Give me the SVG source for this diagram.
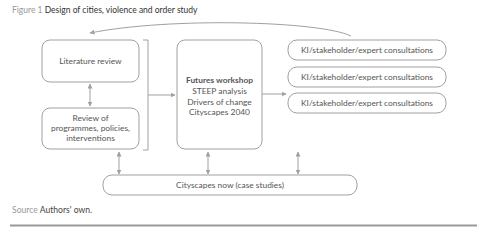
<svg xmlns="http://www.w3.org/2000/svg" width="490" height="234" viewBox="0 0 490 234">
<style>
.box{fill:#fff;stroke:#a0a0a0;stroke-width:1}
.t{font-family:Lato,"Open Sans",sans-serif;font-size:8.4px;fill:#555;text-anchor:middle}
.c{fill:none;stroke:#a0a0a0;stroke-width:1}
</style>
<defs>
<marker id="ah" viewBox="0 0 10 10" refX="9" refY="5" markerWidth="5" markerHeight="5" orient="auto-start-reverse" markerUnits="userSpaceOnUse">
<path d="M0,0 L10,5 L0,10 z" fill="#a0a0a0"/>
</marker>
</defs>
<rect width="490" height="234" fill="#fff"/>
<text x="12" y="12.5" font-family="Lato,'Open Sans',sans-serif" font-size="8.5" fill="#999">Figure 1 <tspan fill="#333">Design of cities, violence and order study</tspan></text>

<g id="connectors">
<path class="c" d="M351,36 C320,21 170,17 90,33" marker-end="url(#ah)"/>
<line class="c" x1="90" y1="84" x2="90" y2="106" marker-start="url(#ah)" marker-end="url(#ah)"/>
<path class="c" d="M143,40 H148 V150 H143"/>
<line class="c" x1="148" y1="95" x2="175" y2="95" marker-end="url(#ah)"/>
<line class="c" x1="262" y1="94" x2="286" y2="94" marker-end="url(#ah)"/>
<line class="c" x1="119" y1="152" x2="119" y2="174" marker-start="url(#ah)" marker-end="url(#ah)"/>
<line class="c" x1="208" y1="152" x2="208" y2="174" marker-start="url(#ah)" marker-end="url(#ah)"/>
<line class="c" x1="298" y1="152" x2="298" y2="174" marker-start="url(#ah)" marker-end="url(#ah)"/>
</g>

<g id="literature">
<rect class="box" x="42" y="40" width="97" height="42" rx="8"/>
<text class="t" x="90.5" y="64">Literature review</text>
</g>
<g id="review">
<rect class="box" x="42" y="108" width="97" height="41" rx="8"/>
<text class="t" x="90.5" y="121">Review of</text>
<text class="t" x="90.5" y="131">programmes, policies,</text>
<text class="t" x="90.5" y="141">interventions</text>
</g>
<g id="futures">
<rect class="box" x="177" y="40" width="85" height="109" rx="8"/>
<text class="t" x="219.5" y="83" font-weight="bold" fill="#222">Futures workshop</text>
<text class="t" x="219.5" y="94">STEEP analysis</text>
<text class="t" x="219.5" y="105">Drivers of change</text>
<text class="t" x="219.5" y="115">Cityscapes 2040</text>
</g>
<g id="ki1">
<rect class="box" x="288" y="40" width="158" height="20" rx="9"/>
<text class="t" x="367" y="53">KI/stakeholder/expert consultations</text>
</g>
<g id="ki2">
<rect class="box" x="288" y="67" width="158" height="20" rx="9"/>
<text class="t" x="367" y="80">KI/stakeholder/expert consultations</text>
</g>
<g id="ki3">
<rect class="box" x="288" y="93" width="158" height="20" rx="9"/>
<text class="t" x="367" y="106">KI/stakeholder/expert consultations</text>
</g>
<g id="cityscapes">
<rect class="box" x="103" y="175" width="254" height="20" rx="9"/>
<text class="t" x="230" y="188">Cityscapes now (case studies)</text>
</g>

<text x="12" y="213" font-family="Lato,'Open Sans',sans-serif" font-size="8.6" fill="#999">Source <tspan fill="#444">Authors' own.</tspan></text>
<line x1="10" y1="225.5" x2="477" y2="225.5" stroke="#999" stroke-width="2"/>
</svg>
